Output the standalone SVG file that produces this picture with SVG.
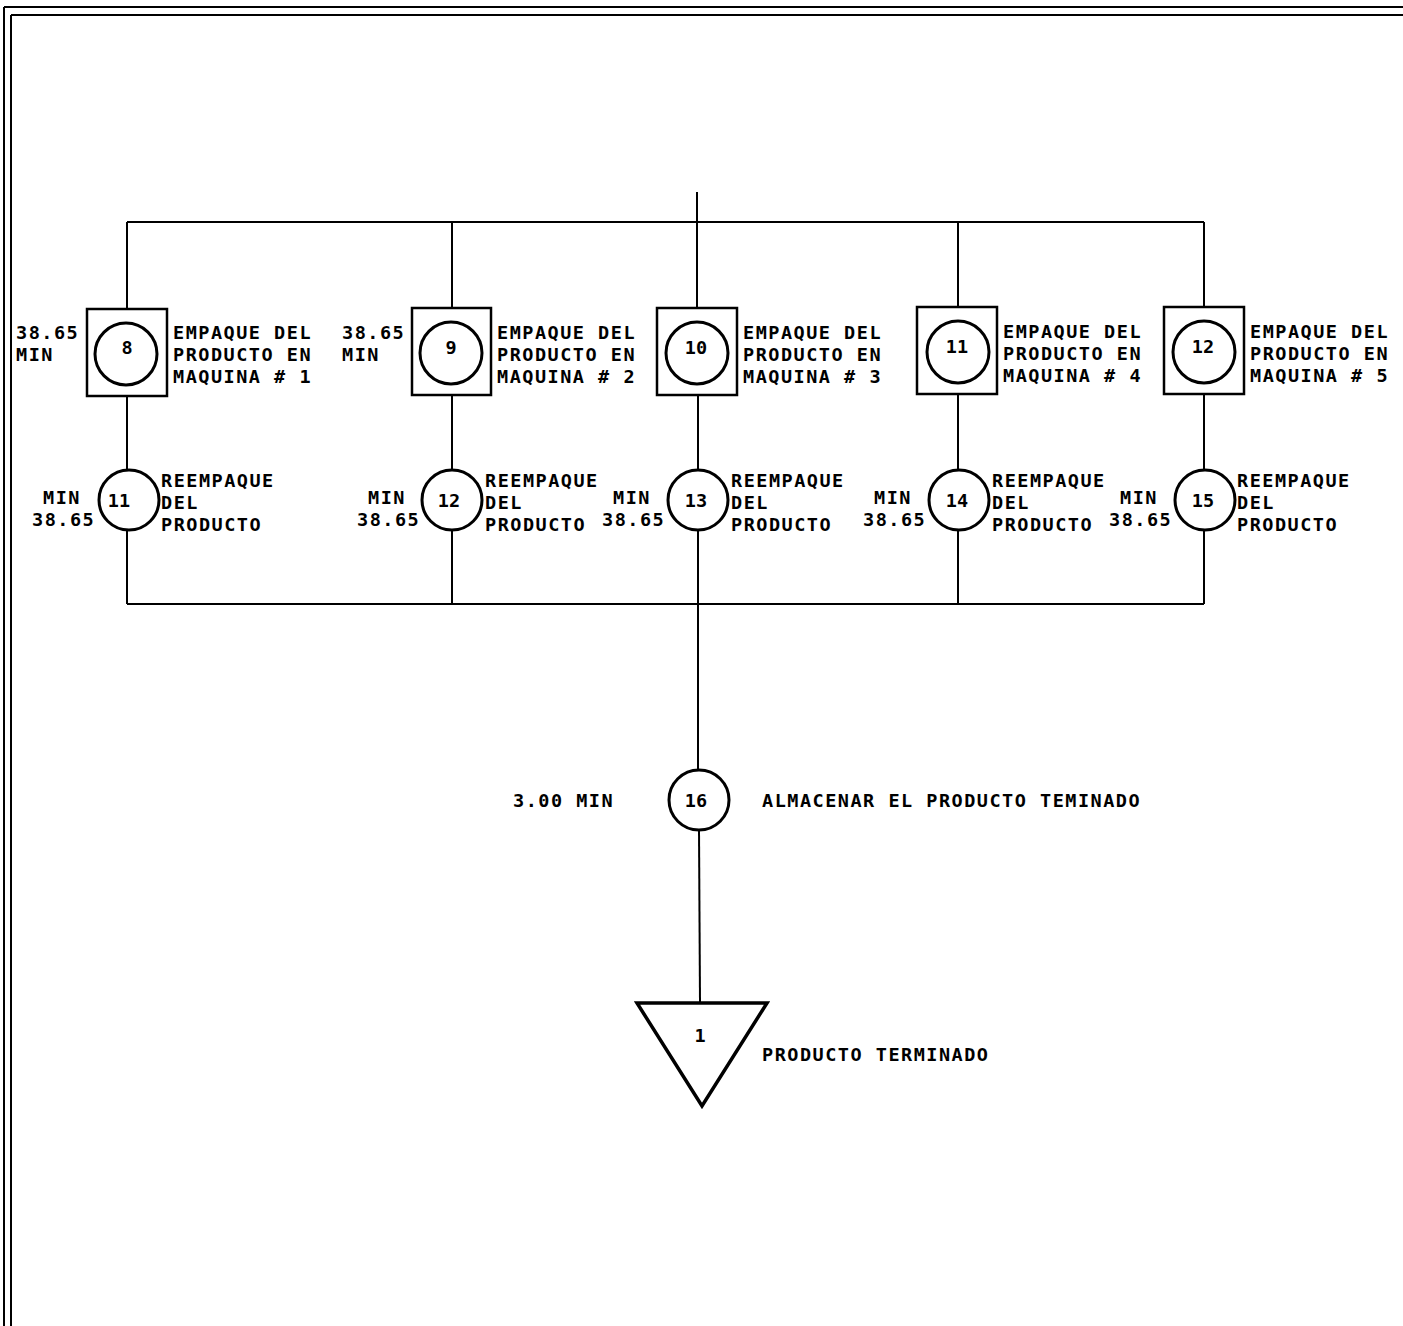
<svg xmlns="http://www.w3.org/2000/svg" width="1403" height="1326" viewBox="0 0 1403 1326">
<style>
.ln{stroke:#000;stroke-width:2;fill:none}
.box{stroke:#000;stroke-width:2.5;fill:none}
.cir{stroke:#000;stroke-width:3;fill:none}
.t{font-family:"DejaVu Sans Mono","Liberation Mono",monospace;font-size:18.5px;font-weight:bold;letter-spacing:1.5px;fill:#000}
.c{text-anchor:middle;letter-spacing:0}
</style>
<rect width="1403" height="1326" fill="#fff"/>
<g id="frame">
<line class="ln" x1="4" y1="7" x2="1403" y2="7"/>
<line class="ln" x1="11" y1="15" x2="1403" y2="15"/>
<line class="ln" x1="4" y1="7" x2="4" y2="1326"/>
<line class="ln" x1="11" y1="15" x2="11" y2="1326"/>
</g>
<g id="connectors">
<line class="ln" x1="697" y1="192" x2="697" y2="308"/>
<line class="ln" x1="127" y1="222" x2="1204" y2="222"/>
<line class="ln" x1="127" y1="222" x2="127" y2="309"/>
<line class="ln" x1="452" y1="222" x2="452" y2="308"/>
<line class="ln" x1="958" y1="222" x2="958" y2="308"/>
<line class="ln" x1="1204" y1="222" x2="1204" y2="308"/>
<line class="ln" x1="127" y1="396" x2="127" y2="470"/>
<line class="ln" x1="452" y1="395" x2="452" y2="470"/>
<line class="ln" x1="698" y1="395" x2="698" y2="470"/>
<line class="ln" x1="958" y1="395" x2="958" y2="470"/>
<line class="ln" x1="1204" y1="395" x2="1204" y2="470"/>
<line class="ln" x1="127" y1="530" x2="127" y2="604"/>
<line class="ln" x1="452" y1="530" x2="452" y2="604"/>
<line class="ln" x1="698" y1="530" x2="698" y2="604"/>
<line class="ln" x1="958" y1="530" x2="958" y2="604"/>
<line class="ln" x1="1204" y1="530" x2="1204" y2="604"/>
<line class="ln" x1="127" y1="604" x2="1204" y2="604"/>
<line class="ln" x1="698" y1="604" x2="698" y2="770"/>
<line class="ln" x1="699" y1="830" x2="700" y2="1003"/>
</g>
<g id="op8">
<rect class="box" x="87" y="309" width="80" height="87"/>
<circle class="cir" cx="126" cy="354" r="31"/>
<text class="t c" x="127" y="354">8</text>
<text class="t" x="16" y="339">38.65<tspan x="16" dy="22">MIN</tspan></text>
<text class="t" x="173" y="339">EMPAQUE DEL<tspan x="173" dy="22">PRODUCTO EN</tspan><tspan x="173" dy="22">MAQUINA # 1</tspan></text>
</g>
<g id="op9">
<rect class="box" x="412" y="308" width="79" height="87"/>
<circle class="cir" cx="451" cy="353" r="31"/>
<text class="t c" x="451" y="354">9</text>
<text class="t" x="342" y="339">38.65<tspan x="342" dy="22">MIN</tspan></text>
<text class="t" x="497" y="339">EMPAQUE DEL<tspan x="497" dy="22">PRODUCTO EN</tspan><tspan x="497" dy="22">MAQUINA # 2</tspan></text>
</g>
<g id="op10">
<rect class="box" x="657" y="308" width="80" height="87"/>
<circle class="cir" cx="697" cy="353" r="31"/>
<text class="t c" x="696" y="354">10</text>
<text class="t" x="743" y="339">EMPAQUE DEL<tspan x="743" dy="22">PRODUCTO EN</tspan><tspan x="743" dy="22">MAQUINA # 3</tspan></text>
</g>
<g id="op11a">
<rect class="box" x="917" y="307" width="80" height="87"/>
<circle class="cir" cx="958" cy="352" r="31"/>
<text class="t c" x="957" y="353">11</text>
<text class="t" x="1003" y="338">EMPAQUE DEL<tspan x="1003" dy="22">PRODUCTO EN</tspan><tspan x="1003" dy="22">MAQUINA # 4</tspan></text>
</g>
<g id="op12a">
<rect class="box" x="1164" y="307" width="80" height="87"/>
<circle class="cir" cx="1204" cy="352" r="31"/>
<text class="t c" x="1203" y="353">12</text>
<text class="t" x="1250" y="338">EMPAQUE DEL<tspan x="1250" dy="22">PRODUCTO EN</tspan><tspan x="1250" dy="22">MAQUINA # 5</tspan></text>
</g>
<g id="op11b">
<circle class="cir" cx="129" cy="500" r="30"/>
<text class="t c" x="119" y="507">11</text>
<text class="t" x="43" y="504">MIN<tspan x="32" dy="22">38.65</tspan></text>
<text class="t" x="161" y="487">REEMPAQUE<tspan x="161" dy="22">DEL</tspan><tspan x="161" dy="22">PRODUCTO</tspan></text>
</g>
<g id="op12b">
<circle class="cir" cx="452" cy="500" r="30"/>
<text class="t c" x="449" y="507">12</text>
<text class="t" x="368" y="504">MIN<tspan x="357" dy="22">38.65</tspan></text>
<text class="t" x="485" y="487">REEMPAQUE<tspan x="485" dy="22">DEL</tspan><tspan x="485" dy="22">PRODUCTO</tspan></text>
</g>
<g id="op13">
<circle class="cir" cx="698" cy="500" r="30"/>
<text class="t c" x="696" y="507">13</text>
<text class="t" x="613" y="504">MIN<tspan x="602" dy="22">38.65</tspan></text>
<text class="t" x="731" y="487">REEMPAQUE<tspan x="731" dy="22">DEL</tspan><tspan x="731" dy="22">PRODUCTO</tspan></text>
</g>
<g id="op14">
<circle class="cir" cx="959" cy="500" r="30"/>
<text class="t c" x="957" y="507">14</text>
<text class="t" x="874" y="504">MIN<tspan x="863" dy="22">38.65</tspan></text>
<text class="t" x="992" y="487">REEMPAQUE<tspan x="992" dy="22">DEL</tspan><tspan x="992" dy="22">PRODUCTO</tspan></text>
</g>
<g id="op15">
<circle class="cir" cx="1205" cy="500" r="30"/>
<text class="t c" x="1203" y="507">15</text>
<text class="t" x="1120" y="504">MIN<tspan x="1109" dy="22">38.65</tspan></text>
<text class="t" x="1237" y="487">REEMPAQUE<tspan x="1237" dy="22">DEL</tspan><tspan x="1237" dy="22">PRODUCTO</tspan></text>
</g>
<g id="op16">
<circle class="cir" cx="699" cy="800" r="30"/>
<text class="t c" x="696" y="807">16</text>
<text class="t" x="513" y="807">3.00 MIN</text>
<text class="t" x="762" y="807">ALMACENAR EL PRODUCTO TEMINADO</text>
</g>
<g id="store1">
<polygon points="637,1003 767,1003 702,1106" stroke="#000" stroke-width="3.5" fill="none" stroke-linejoin="miter"/>
<text class="t c" x="700" y="1042">1</text>
<text class="t" x="762" y="1061">PRODUCTO TERMINADO</text>
</g>
</svg>
